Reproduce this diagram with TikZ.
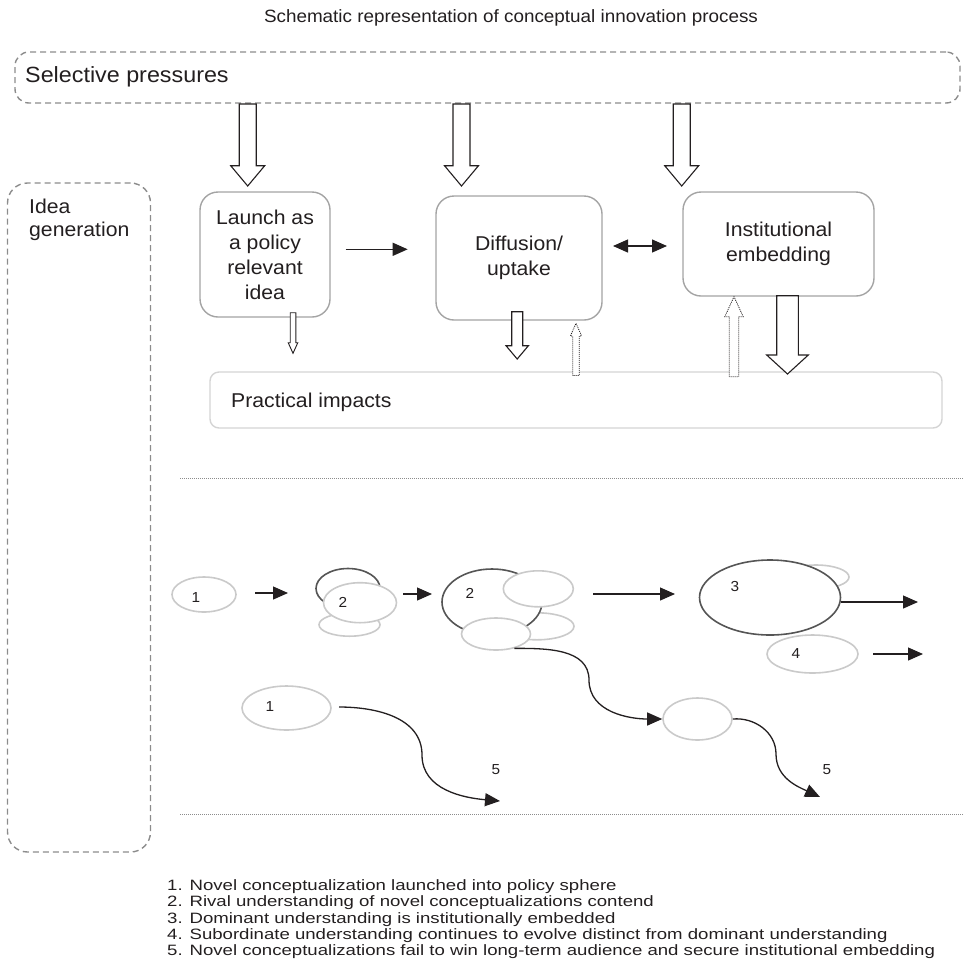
\documentclass[tikz,border=0pt]{standalone}
\usepackage{fontspec}
\setmainfont{Liberation Sans}[FakeStretch=1.06]
\newfontfamily\legfont{Liberation Sans}[FakeStretch=1.24]
\usetikzlibrary{arrows.meta,shapes.geometric}
\definecolor{txt}{HTML}{231F20}
\definecolor{boxgray}{HTML}{A4A4A4}
\definecolor{lightgray}{HTML}{D4D4D4}
\definecolor{dashgray}{HTML}{8C8C8C}
\definecolor{ellgray}{HTML}{CACACA}
\definecolor{elldark}{HTML}{555555}
\newcommand\blkarrow[7][]{\draw[#1] (#2-#6,#3) -- (#2-#6,#4) -- (#2-#7,#4) -- (#2,#5) -- (#2+#7,#4) -- (#2+#6,#4) -- (#2+#6,#3) -- cycle;}
\begin{document}
\begin{tikzpicture}[x=1pt,y=-1pt,
  every node/.style={text=txt},
  bigtxt/.style={font=\fontsize{20}{25}\selectfont},
  procbox/.style={draw=boxgray,line width=1.4pt,rounded corners=18pt,fill=white,inner sep=0pt,align=center,bigtxt},
  dashbox/.style={draw=dashgray,line width=1.4pt,dash pattern=on 6pt off 4pt,rounded corners=14pt,inner sep=0pt},
  sep/.style={draw=dashgray,line width=1pt,dash pattern=on 1pt off 1pt},
  blk/.style={draw=txt,line width=1.1pt,fill=white,line join=miter},
  dotblk/.style={draw=txt,line width=0.8pt,dash pattern=on 1pt off 1pt,fill=white},
  arr/.style={draw=txt,line width=1.3pt,-{Triangle[length=15pt,width=13pt]}},
  darr/.style={draw=txt,line width=1.3pt,{Triangle[length=15pt,width=13pt]}-{Triangle[length=15pt,width=13pt]}},
  lell/.style={ellipse,draw=ellgray,line width=1.6pt,fill=white,inner sep=0pt},
  dell/.style={ellipse,draw=elldark,line width=1.6pt,fill=white,inner sep=0pt},
  num/.style={font=\fontsize{14.5}{16}\selectfont,inner sep=0pt},
]
\useasboundingbox (0,0) rectangle (968,959);

% title
\node[font=\fontsize{17.8}{21}\selectfont] (title) at (511,18) {Schematic representation of conceptual innovation process};

% selective pressures
\node[dashbox,minimum width=945pt,minimum height=51pt] (sel) at (487.5,77.5) {};
\node[anchor=west,inner sep=0pt,font=\fontsize{22}{25}\selectfont] (seltxt) at (25,77) {Selective pressures};

% idea generation
\node[dashbox,rounded corners=20pt,minimum width=143pt,minimum height=669pt] (idea) at (79,517.5) {};
\node[anchor=north west,align=left,inner sep=0pt,font=\fontsize{20}{22.5}\selectfont] (ideatxt) at (29,199) {Idea\\generation};

% process boxes
\node[procbox,minimum width=130pt,minimum height=125pt] (launch) at (265,254.5) {Launch as\\a policy\\relevant\\idea};
\node[procbox,minimum width=166pt,minimum height=124pt] (diff) at (519,258) {Diffusion/\\uptake};
\node[procbox,minimum width=191pt,minimum height=104pt] (inst) at (778.5,244) {Institutional\\embedding};

% practical impacts
\node[draw=lightgray,line width=1.4pt,rounded corners=9pt,minimum width=732pt,minimum height=56pt,inner sep=0pt] (prac) at (576,400) {};
\node[bigtxt,anchor=west,inner sep=0pt] (practxt) at (231,402) {Practical impacts};

% block arrows from selective pressures
\blkarrow[blk]{247.7}{104}{165.7}{186}{8.5}{17}
\blkarrow[blk]{461.5}{104}{165.7}{186}{8.5}{17}
\blkarrow[blk]{681.7}{104}{165.7}{186}{8.5}{17}

% arrows between boxes
\coordinate (a1s) at (345.7,249.3);
\coordinate (a1e) at (407.7,249.3);
\draw[arr] (a1s) -- (a1e);
\coordinate (a2s) at (613,246);
\coordinate (a2e) at (667,246);
\draw[darr] (a2s) -- (a2e);

% down / up arrows to practical impacts
\blkarrow[blk,line width=0.9pt]{293}{312.7}{342.7}{353.3}{2.8}{4.8}
\blkarrow[blk]{517.2}{311.7}{345.7}{359}{5.5}{11.2}
\blkarrow[dotblk]{576}{375.5}{336}{323.3}{3.3}{5.6}
\blkarrow[dotblk]{734}{376.7}{316.7}{296.7}{4.7}{9.2}
\blkarrow[blk]{787.5}{295.7}{355}{374}{10.8}{20.8}

% separators
\coordinate (s1a) at (180,478); \coordinate (s1b) at (963,478);
\draw[sep] (s1a) -- (s1b);
\coordinate (s2a) at (180,814); \coordinate (s2b) at (963,814);
\draw[sep] (s2a) -- (s2b);

% --- lower diagram ---
% 1
\node[lell,minimum width=64pt,minimum height=35pt] (e1) at (204,594.5) {};
\node[num] (n1) at (196,597) {1};
\coordinate (b1s) at (255,593); \coordinate (b1e) at (288,593);
\draw[arr] (b1s) -- (b1e);

% cluster 2 small
\node[dell,minimum width=64pt,minimum height=40pt] (c2back) at (348,588.5) {};
\node[lell,minimum width=61pt,minimum height=23pt] (c2bot) at (349.5,624.7) {};
\node[lell,minimum width=73pt,minimum height=40pt] (c2front) at (360,602.7) {};
\node[num] (n2a) at (343,602) {2};
\coordinate (b2s) at (403,594); \coordinate (b2e) at (432,594);
\draw[arr] (b2s) -- (b2e);

% cluster 2 large
\node[lell,minimum width=74pt,minimum height=27pt] (c3lr) at (537,626.3) {};
\node[dell,minimum width=100pt,minimum height=66pt] (c3dark) at (492,602) {};
\node[lell,minimum width=69pt,minimum height=32pt] (c3bot) at (496,634) {};
\node[lell,minimum width=70pt,minimum height=36pt] (c3tr) at (538.3,588.8) {};
\node[num] (n2b) at (470,593) {2};
\coordinate (b3s) at (593,594); \coordinate (b3e) at (675,594);
\draw[arr] (b3s) -- (b3e);

% 3
\node[lell,minimum width=66pt,minimum height=24pt] (e3back) at (816,577) {};
\node[dell,minimum width=141pt,minimum height=75pt] (e3) at (770,597.5) {};
\node[num] (n3) at (735,586) {3};
\coordinate (b4e) at (918,602);
\draw[arr] (e3.east |- b4e) -- (b4e);

% 4
\node[lell,minimum width=91pt,minimum height=38pt] (e4) at (812.5,654) {};
\node[num] (n4) at (796,653) {4};
\coordinate (b5s) at (873,654); \coordinate (b5e) at (923,654);
\draw[arr] (b5s) -- (b5e);

% small ellipse after curve
\node[lell,minimum width=69pt,minimum height=42pt] (e5) at (697.5,719) {};
\coordinate (m1) at (589,680);
\draw[arr] (c3bot.-38) to[out=0,in=90] (m1) to[out=-90,in=180] (e5.west);

% lower 1
\node[lell,minimum width=89pt,minimum height=44pt] (e1b) at (286.5,708) {};
\node[num] (n1b) at (270,706) {1};
\coordinate (c1s) at (339,707);
\coordinate (m2) at (422,755);
\coordinate (c1e) at (500,801);
\draw[arr] (c1s) to[out=0,in=90] (m2) to[out=-90,in=175] (c1e);
\node[num] (n5a) at (496,770) {5};

\coordinate (m3) at (776,754);
\coordinate (c2e) at (820,797);
\draw[arr] (e5.east) to[out=5,in=90] (m3) to[out=-90,in=155] (c2e);
\node[num] (n5b) at (827,770) {5};

% legend
\node[anchor=north west,align=left,inner sep=0pt,font=\legfont\fontsize{15}{16.3}\selectfont] (legend) at (167,879.5) {1. Novel conceptualization launched into policy sphere\\
2. Rival understanding of novel conceptualizations contend\\
3. Dominant understanding is institutionally embedded\\
4. Subordinate understanding continues to evolve distinct from dominant understanding\\
5. Novel conceptualizations fail to win long-term audience and secure institutional embedding};
\end{tikzpicture}
\end{document}
